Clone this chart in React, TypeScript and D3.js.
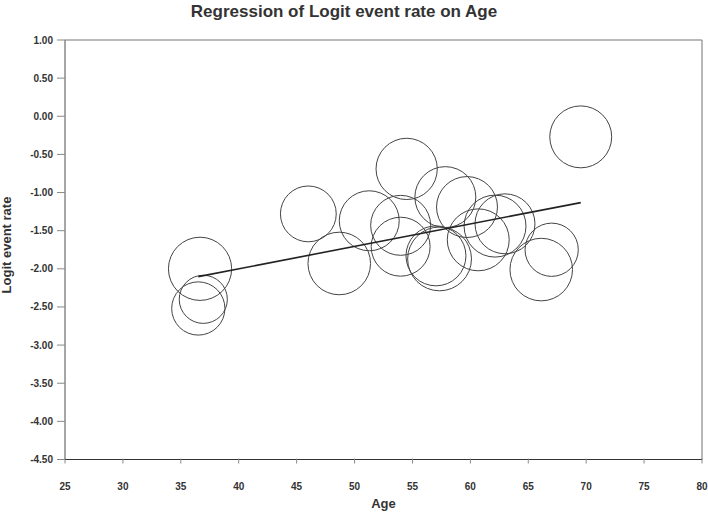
import React from "react";
import * as d3 from "d3";

const ages = [36.66, 36.94, 36.51, 46.01, 48.68, 51.27, 54.5, 53.98, 53.98, 57.84, 59.71, 57.03, 57.34, 60.68, 62.13, 62.99, 66.12, 67.02, 69.53];
const logits = [-2.0, -2.4, -2.52, -1.28, -1.93, -1.37, -0.69, -1.43, -1.71, -1.06, -1.19, -1.83, -1.87, -1.62, -1.44, -1.41, -2.01, -1.75, -0.27];
const weights = [10.0, 5.8, 7.1, 7.8, 9.8, 9.0, 9.4, 9.0, 8.7, 9.3, 9.3, 9.0, 10.2, 9.6, 9.6, 9.0, 9.8, 7.1, 9.6];
const regression = [-3.176, 0.0294]; // intercept, slope
const xTicks = [25, 30, 35, 40, 45, 50, 55, 60, 65, 70, 75, 80];
const yTicks = [1, 0.5, 0, -0.5, -1, -1.5, -2, -2.5, -3, -3.5, -4, -4.5];

const W = 708, H = 521;
const L = 65, R = 702, T = 40, B = 459.5;
const font = "'Liberation Sans', Arial, sans-serif";

export default function App() {
  const x = d3.scaleLinear().domain([25, 80]).range([L, R]);
  const y = d3.scaleLinear().domain([-4.5, 1]).range([B, T]);
  const r = d3.scaleSqrt().domain([0, 10]).range([0, 31.6]);
  const amin = d3.min(ages)!, amax = d3.max(ages)!;
  const line = d3.line<number>().x(a => x(a)).y(a => y(regression[0] + regression[1] * a));

  return (
    <svg width={W} height={H} style={{ position: "absolute", left: 0, top: 0, background: "#fff" }} fontFamily={font}>
      <text x={344} y={16.5} textAnchor="middle" fontSize={17} fontWeight="bold" fill="#333">Regression of Logit event rate on Age</text>
      {/* frame */}
      <line x1={L} x2={R} y1={T} y2={T} stroke="#777" strokeWidth={1.2} />
      <line x1={R} x2={R} y1={T} y2={B} stroke="#888" strokeWidth={1.2} />
      <line x1={L} x2={L} y1={T} y2={B} stroke="#888" strokeWidth={1.5} />
      <line x1={L} x2={R} y1={B} y2={B} stroke="#333" strokeWidth={1.2} />
      {yTicks.map(t => (
        <g key={"y" + t}>
          <line x1={L - 8} x2={L} y1={y(t)} y2={y(t)} stroke="#888" strokeWidth={1} />
          <text x={53} y={y(t) + 3.5} textAnchor="end" fontSize={10} fontWeight="bold" fill="#333">{t.toFixed(2)}</text>
        </g>
      ))}
      {xTicks.map(t => (
        <g key={"x" + t}>
          <line x1={x(t)} x2={x(t)} y1={B - 1} y2={B + 4} stroke="#888" strokeWidth={1} />
          <text x={x(t)} y={490} textAnchor="middle" fontSize={10} fontWeight="bold" fill="#333">{t}</text>
        </g>
      ))}
      <text x={(L + R) / 2} y={508} textAnchor="middle" fontSize={13} fontWeight="bold" fill="#333">Age</text>
      <text transform={`translate(11,245) rotate(-90)`} textAnchor="middle" fontSize={13} fontWeight="bold" fill="#333">Logit event rate</text>
      {ages.map((a, i) => (
        <circle key={i} cx={x(a)} cy={y(logits[i])} r={r(weights[i])} fill="none" stroke="#444" strokeWidth={1} />
      ))}
      <path d={line([amin, amax])!} fill="none" stroke="#222" strokeWidth={1.6} />
    </svg>
  );
}
